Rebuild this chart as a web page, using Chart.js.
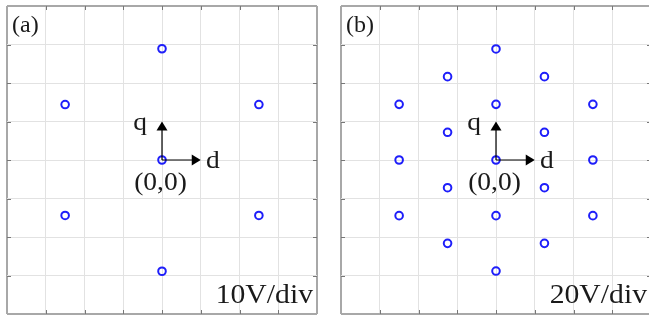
<!DOCTYPE html>
<html>
<head>
<meta charset="utf-8">
<script src="https://cdn.jsdelivr.net/npm/chart.js@4"></script>
<style>
  html, body { margin: 0; padding: 0; background: #fff; }
  #wrap { position: relative; width: 649px; height: 320px; overflow: hidden; }
  #wrap canvas { position: absolute; top: 0; }
</style>
</head>
<body>
<div id="wrap">
  <canvas id="chartA" width="325" height="320" style="left:0"></canvas>
  <canvas id="chartB" width="325" height="320" style="left:334px"></canvas>
</div>
<script>
// panel (a): 10 V/div, two-level vectors
const aD = [0, 0, 0, 25, 25, -25, -25];
const aQ = [0, 28.9, -28.9, 14.4, -14.4, 14.4, -14.4];
// panel (b): 20 V/div, three-level vectors
const bD = [0, 0, 0, 25, 25, -25, -25, 50, 50, -50, -50, 0, 0, 25, 25, -25, -25, 50, -50];
const bQ = [0, 57.7, -57.7, 43.3, -43.3, 43.3, -43.3, 28.9, -28.9, 28.9, -28.9, 28.9, -28.9, 14.4, -14.4, 14.4, -14.4, 0, 0];
const panelLabels = ['(a)', '(b)'];
const scaleLabels = ['10V/div', '20V/div'];
const stepsPerDiv = [10, 20];

const BLUE = 'rgb(30,30,250)';
const SERIF = '"Liberation Serif", "DejaVu Serif", serif';

function toPoints(d, q) {
    return d.map((v, i) => ({ x: v, y: q[i] }));
}

function stretchText(ctx, txt, x, y, align, sx) {
    ctx.save();
    ctx.translate(x, y);
    ctx.scale(sx, 1);
    ctx.textAlign = align;
    ctx.fillText(txt, 0, 0);
    ctx.restore();
}

// frame ticks, arrows and labels
const decorPlugin = {
    id: 'decor',
    afterDatasetsDraw(chart, args, opts) {
        const ctx = chart.ctx;
        const xs = chart.scales.x, ys = chart.scales.y;
        const area = chart.chartArea;
        const step = opts.step;

        // small inward ticks on the frame
        ctx.save();
        ctx.strokeStyle = '#777';
        ctx.lineWidth = 1;
        for (let v = xs.min + step; v < xs.max; v += step) {
            const px = Math.round(xs.getPixelForValue(v)) + 0.5;
            ctx.beginPath();
            ctx.moveTo(px, area.top); ctx.lineTo(px, area.top + 4);
            ctx.moveTo(px, area.bottom); ctx.lineTo(px, area.bottom - 4);
            ctx.stroke();
        }
        for (let v = ys.min + step; v < ys.max; v += step) {
            const py = Math.round(ys.getPixelForValue(v)) + 0.5;
            ctx.beginPath();
            ctx.moveTo(area.left, py); ctx.lineTo(area.left + 4, py);
            ctx.moveTo(area.right, py); ctx.lineTo(area.right - 4, py);
            ctx.stroke();
        }
        ctx.restore();

        // d / q arrows, one division long
        const ox = xs.getPixelForValue(0), oy = ys.getPixelForValue(0);
        const dx = xs.getPixelForValue(step), qy = ys.getPixelForValue(step);
        ctx.save();
        ctx.strokeStyle = '#000';
        ctx.fillStyle = '#000';
        ctx.lineWidth = 1.2;
        ctx.beginPath();
        ctx.moveTo(ox, oy); ctx.lineTo(dx - 8, oy);
        ctx.moveTo(ox, oy); ctx.lineTo(ox, qy + 8);
        ctx.stroke();
        ctx.beginPath();
        ctx.moveTo(dx, oy); ctx.lineTo(dx - 9, oy - 5.5); ctx.lineTo(dx - 9, oy + 5.5);
        ctx.closePath(); ctx.fill();
        ctx.beginPath();
        ctx.moveTo(ox, qy); ctx.lineTo(ox - 5.5, qy + 9); ctx.lineTo(ox + 5.5, qy + 9);
        ctx.closePath(); ctx.fill();

        ctx.fillStyle = '#1a1a1a';
        ctx.textBaseline = 'alphabetic';
        ctx.font = '25px ' + SERIF;
        stretchText(ctx, 'q', ox - 15, oy - 30, 'right', 1.1);
        stretchText(ctx, 'd', ox + 44, oy + 8, 'left', 1.1);
        stretchText(ctx, '(0,0)', ox - 1.5, oy + 30, 'center', 1.1);

        ctx.font = '24px ' + SERIF;
        ctx.textAlign = 'left';
        ctx.fillText(opts.panel, area.left + 5, area.top + 26);

        ctx.font = '27px ' + SERIF;
        stretchText(ctx, opts.unit, area.right - 4, area.bottom - 11, 'right', 1.1);
        ctx.restore();
    }
};

function makeChart(id, d, q, idx) {
    const step = stepsPerDiv[idx];
    const lim = step * 4;
    const gridColor = c => (c.tick && Math.abs(c.tick.value) === lim) ? '#a8a8a8' : '#e2e2e2';
    const gridWidth = c => (c.tick && Math.abs(c.tick.value) === lim) ? 2 : 1;
    const axis = {
        type: 'linear',
        min: -lim,
        max: lim,
        ticks: { display: false, stepSize: step },
        grid: { color: gridColor, lineWidth: gridWidth, drawTicks: false },
        border: { display: false }
    };
    return new Chart(document.getElementById(id).getContext('2d'), {
        type: 'scatter',
        data: {
            datasets: [{
                data: toPoints(d, q),
                pointStyle: 'circle',
                pointRadius: 3.8,
                pointBorderWidth: 2,
                pointBackgroundColor: 'rgba(255,255,255,0)',
                pointBorderColor: BLUE
            }]
        },
        options: {
            responsive: false,
            animation: false,
            devicePixelRatio: 1,
            layout: { padding: { left: 7, top: 5, right: 8, bottom: 4 } },
            scales: { x: axis, y: Object.assign({}, axis) },
            plugins: {
                legend: { display: false },
                tooltip: { enabled: false },
                decor: { step: step, panel: panelLabels[idx], unit: scaleLabels[idx] }
            }
        },
        plugins: [decorPlugin]
    });
}

makeChart('chartA', aD, aQ, 0);
makeChart('chartB', bD, bQ, 1);
</script>
</body>
</html>
